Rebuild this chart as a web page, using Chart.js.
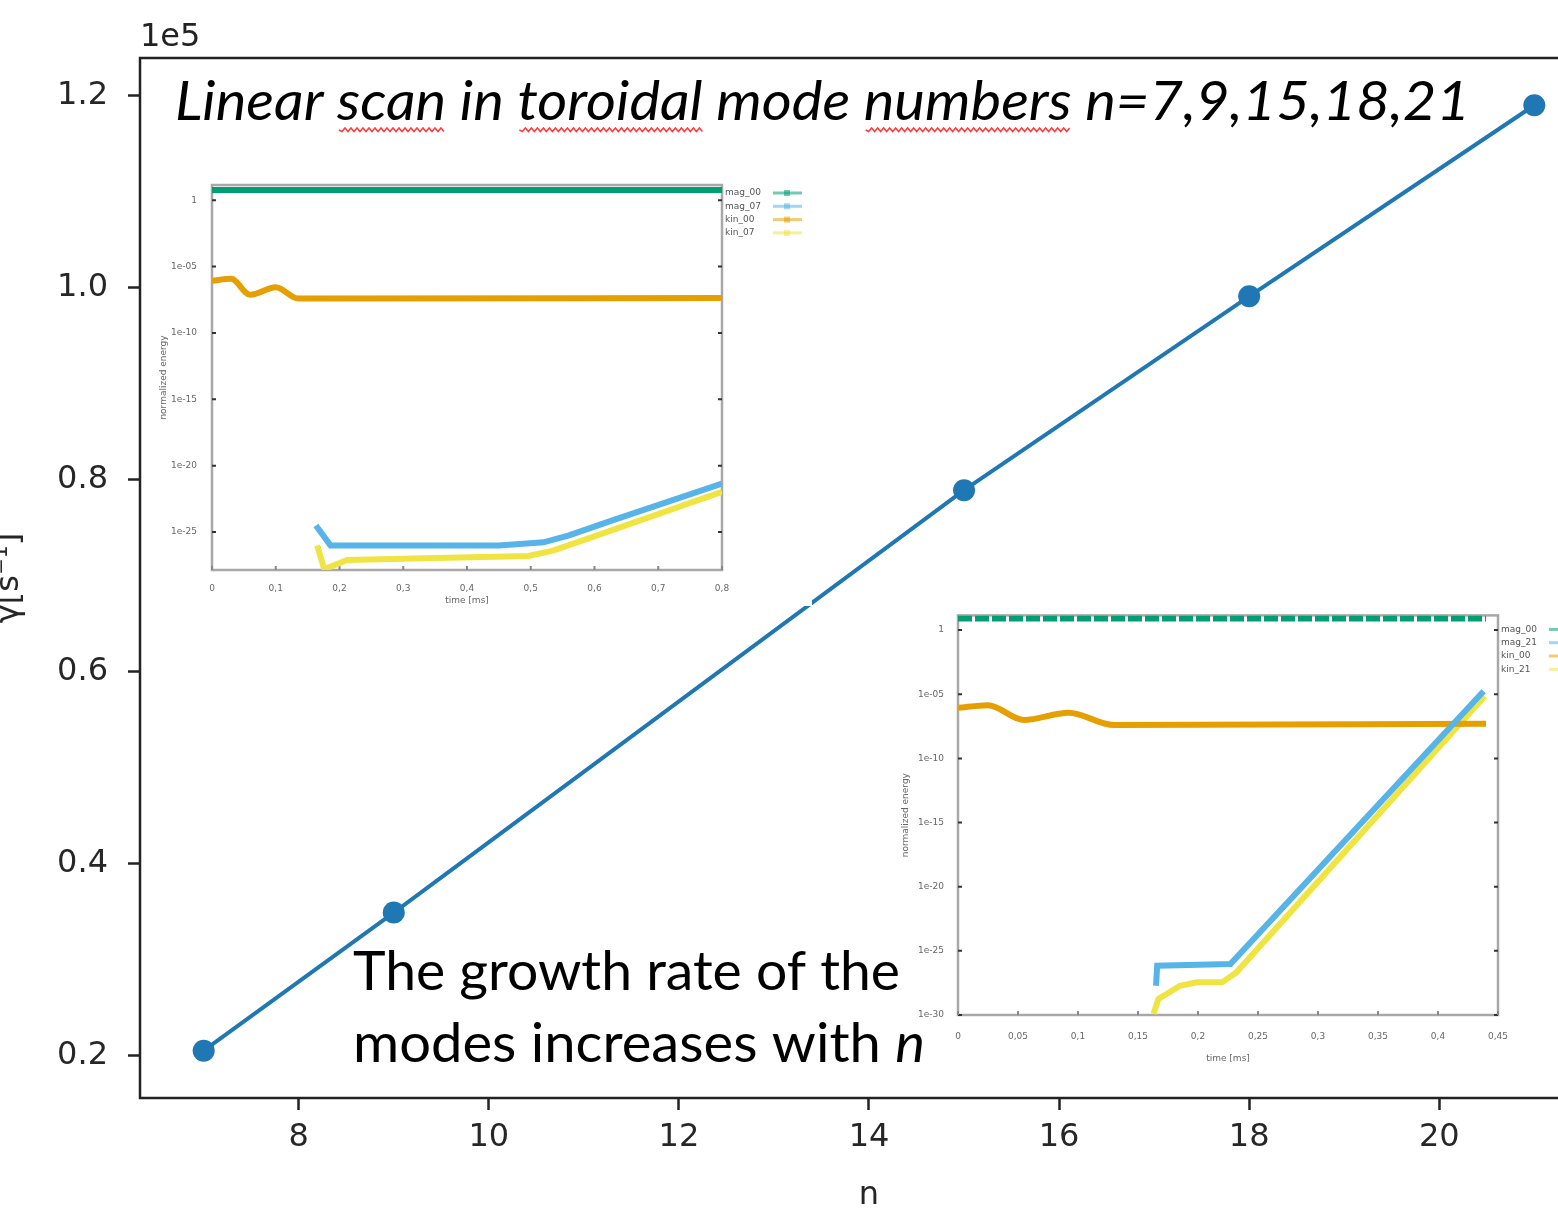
<!DOCTYPE html>
<html>
<head>
<meta charset="utf-8">
<script src="https://cdn.jsdelivr.net/npm/chart.js@4.4.1/dist/chart.umd.min.js"></script>
<style>
  html, body { margin: 0; padding: 0; background: #fff; overflow: hidden; }
  #wrap { position: relative; width: 1558px; height: 1215px; overflow: hidden; }
  canvas { position: absolute; }
  #main { left: 0; top: 0; }
  #inset1 { left: 150px; top: 172px; background: #fff; }
  #inset2 { left: 893px; top: 604px; }
</style>
</head>
<body>
<div id="wrap">
  <canvas id="main" width="1609" height="1215"></canvas>
  <canvas id="inset1" width="662" height="434"></canvas>
  <canvas id="inset2" width="700" height="460"></canvas>
</div>
<script>
// --- main scan: growth rate vs toroidal mode number
const modeNumbers = [7, 9, 15, 18, 21];
const growthRates = [20500, 34900, 78900, 99100, 119000];   // s^-1
const nTicks = [8, 10, 12, 14, 16, 18, 20];
const gammaTicks = [20000, 40000, 60000, 80000, 100000, 120000];
const gammaTickLabels = ['0.2', '0.4', '0.6', '0.8', '1.0', '1.2'];

// --- inset 1: energies for n=7 run (log scale)
const ins1TimeTicks = [0, 0.1, 0.2, 0.3, 0.4, 0.5, 0.6, 0.7, 0.8];
const ins1TimeLabels = ['0', '0,1', '0,2', '0,3', '0,4', '0,5', '0,6', '0,7', '0,8'];
const ins1EnergyTicks = [1, 1e-5, 1e-10, 1e-15, 1e-20, 1e-25];
const ins1EnergyLabels = ['1', '1e-05', '1e-10', '1e-15', '1e-20', '1e-25'];
const ins1Mag00T = [0, 0.8];
const ins1Mag00E = [6, 6];
const ins1Mag07T = [0.163, 0.186, 0.45, 0.52, 0.56, 0.628, 0.8];
const ins1Mag07E = [3.2e-25, 9.8e-27, 1.0e-26, 1.7e-26, 5.6e-26, 7.6e-25, 4.6e-22];
const ins1Kin00T = [0, 0.03, 0.06, 0.1, 0.135, 0.8];
const ins1Kin00E = [8.7e-7, 1.2e-6, 7.5e-8, 2.8e-7, 4.0e-8, 4.3e-8];
const ins1Kin07T = [0.165, 0.176, 0.212, 0.298, 0.496, 0.535, 0.595, 0.8];
const ins1Kin07E = [1e-26, 1.6e-28, 8e-28, 1e-27, 1.6e-27, 4e-27, 4e-26, 1.07e-22];

// --- inset 2: energies for n=21 run (log scale)
const ins2TimeTicks = [0, 0.05, 0.1, 0.15, 0.2, 0.25, 0.3, 0.35, 0.4, 0.45];
const ins2TimeLabels = ['0', '0,05', '0,1', '0,15', '0,2', '0,25', '0,3', '0,35', '0,4', '0,45'];
const ins2EnergyTicks = [1, 1e-5, 1e-10, 1e-15, 1e-20, 1e-25, 1e-30];
const ins2EnergyLabels = ['1', '1e-05', '1e-10', '1e-15', '1e-20', '1e-25', '1e-30'];
const ins2Mag00T = [0, 0.44];
const ins2Mag00E = [8, 8];
const ins2Mag21T = [0.165, 0.166, 0.227, 0.438];
const ins2Mag21E = [1.9e-28, 6.9e-27, 9.3e-27, 1.7e-5];
const ins2Kin00T = [0, 0.025, 0.055, 0.092, 0.13, 0.44];
const ins2Kin00E = [8.7e-7, 1.4e-6, 9.8e-8, 3.6e-7, 4.0e-8, 5.1e-8];
const ins2Kin21T = [0.163, 0.167, 0.185, 0.199, 0.22, 0.232, 0.439];
const ins2Kin21E = [1.26e-30, 1.8e-29, 1.9e-28, 3.5e-28, 3.5e-28, 2.1e-27, 7.1e-6];

const GREEN = '#009e73', BLUE = '#56b4e9', ORANGE = '#e69f00', YELLOW = '#f0e442';

// draws spines, offset text and the slide annotations
const mainDecor = {
  id: 'mainDecor',
  afterDraw(chart) {
    const ctx = chart.ctx;
    const a = chart.chartArea;
    ctx.save();
    ctx.strokeStyle = '#222';
    ctx.lineWidth = 2.5;
    ctx.strokeRect(a.left, a.top, a.right - a.left, a.bottom - a.top);

    ctx.fillStyle = '#222';
    ctx.font = '32px "DejaVu Sans"';
    ctx.textBaseline = 'alphabetic';
    ctx.fillText('1e5', 140, 46);

    // title line with spell-check squiggles
    const title = 'Linear scan in toroidal mode numbers n=7,9,15,18,21';
    ctx.font = 'italic 55px Lato';
    const tw = ctx.measureText(title).width;
    const sx = 1295 / tw;
    ctx.fillStyle = '#000';
    ctx.save();
    ctx.translate(175, 120);
    ctx.scale(sx, 1);
    ctx.fillText(title, 0, 0);
    ctx.restore();
    ctx.strokeStyle = '#ff3b3b';
    ctx.lineWidth = 1.5;
    ['scan', 'toroidal', 'numbers'].forEach(w => {
      const i = title.indexOf(w);
      const x0 = 175 + ctx.measureText(title.slice(0, i)).width * sx + 2;
      const x1 = 175 + ctx.measureText(title.slice(0, i + w.length)).width * sx;
      ctx.beginPath();
      let up = true;
      for (let x = x0; x <= x1; x += 3) {
        if (x === x0) ctx.moveTo(x, 130); else ctx.lineTo(x, up ? 128 : 131.5);
        up = !up;
      }
      ctx.stroke();
    });

    // annotation
    ctx.fillStyle = '#000';
    ctx.font = '55px Lato';
    const l1 = 'The growth rate of the';
    const s1 = 547 / ctx.measureText(l1).width;
    ctx.save();
    ctx.translate(353, 990);
    ctx.scale(s1, 1);
    ctx.fillText(l1, 0, 0);
    ctx.restore();
    const l2 = 'modes increases with ';
    const w2 = ctx.measureText(l2).width;
    ctx.font = 'italic 55px Lato';
    const wn = ctx.measureText('n').width;
    const s2 = 572 / (w2 + wn);
    ctx.save();
    ctx.translate(353, 1062);
    ctx.scale(s2, 1);
    ctx.fillText('n', w2, 0);
    ctx.font = '55px Lato';
    ctx.fillText(l2, 0, 0);
    ctx.restore();
    ctx.restore();
  }
};

new Chart(document.getElementById('main'), {
  type: 'line',
  data: {
    datasets: [{
      data: modeNumbers.map((n, i) => ({ x: n, y: growthRates[i] })),
      borderColor: '#1f77b4',
      backgroundColor: '#1f77b4',
      borderWidth: 4,
      pointRadius: 11,
      pointBorderWidth: 0,
      pointBackgroundColor: '#1f77b4',
      clip: false
    }]
  },
  options: {
    responsive: false,
    animation: false,
    layout: { padding: { top: 58, right: 3, left: 0, bottom: 0 } },
    plugins: { legend: { display: false }, tooltip: { enabled: false } },
    scales: {
      x: {
        type: 'linear',
        min: 6.33,
        max: 21.67,
        afterBuildTicks: s => { s.ticks = nTicks.map(v => ({ value: v })); },
        afterFit: s => { s.height = 117; },
        border: { display: false },
        grid: { drawOnChartArea: false, drawTicks: true, tickLength: 12, tickColor: '#222', tickWidth: 2.5 },
        ticks: { font: { family: 'DejaVu Sans', size: 32 }, color: '#262626', padding: 8, maxRotation: 0 },
        title: { display: true, text: 'n', font: { family: 'DejaVu Sans', size: 32 }, color: '#262626', padding: { top: 6, bottom: 0 } }
      },
      y: {
        type: 'linear',
        min: 15575,
        max: 123925,
        afterBuildTicks: s => { s.ticks = gammaTicks.map(v => ({ value: v })); },
        afterFit: s => { s.width = 140; },
        border: { display: false },
        grid: { drawOnChartArea: false, drawTicks: true, tickLength: 12, tickColor: '#222', tickWidth: 2.5 },
        ticks: {
          font: { family: 'DejaVu Sans', size: 32 }, color: '#262626', padding: 20,
          callback: v => gammaTickLabels[gammaTicks.indexOf(v)]
        },
        title: { display: true, text: 'γ[s⁻¹]', font: { family: 'DejaVu Sans', size: 32, lineHeight: 1 }, color: '#262626', padding: { top: -6, bottom: 0 } }
      }
    }
  },
  plugins: [mainDecor]
});

// gnuplot-like frame, inner ticks and legend for the insets
const insetDecor = {
  id: 'insetDecor',
  beforeDatasetsDraw(chart, args, opts) {
    const ctx = chart.ctx;
    const a = chart.chartArea;
    ctx.save();
    ctx.strokeStyle = '#a8a8a8';
    ctx.lineWidth = 2.5;
    ctx.strokeRect(a.left, a.top, a.right - a.left, a.bottom - a.top);
    ctx.strokeStyle = '#333';
    ctx.lineWidth = 2;
    chart.scales.y.ticks.forEach(t => {
      const y = chart.scales.y.getPixelForValue(t.value);
      ctx.beginPath();
      ctx.moveTo(a.left, y); ctx.lineTo(a.left + 4, y);
      ctx.moveTo(a.right, y); ctx.lineTo(a.right - 4, y);
      ctx.stroke();
    });
    ctx.strokeStyle = '#888';
    chart.scales.x.ticks.forEach(t => {
      const x = chart.scales.x.getPixelForValue(t.value);
      ctx.beginPath();
      ctx.moveTo(x, a.bottom); ctx.lineTo(x, a.bottom - 4);
      ctx.stroke();
    });
    ctx.restore();
  },
  afterDraw(chart, args, opts) {
    const ctx = chart.ctx;
    const a = chart.chartArea;
    ctx.save();
    ctx.font = '9px "DejaVu Sans"';
    ctx.textBaseline = 'middle';
    chart.data.datasets.forEach((ds, i) => {
      const y = a.top + opts.legendTop + i * 13.3;
      ctx.fillStyle = '#555';
      ctx.fillText(ds.label, a.right + 3, y);
      ctx.globalAlpha = 0.55;
      ctx.strokeStyle = ds.borderColor;
      ctx.lineWidth = 3;
      ctx.beginPath();
      ctx.moveTo(a.right + 51, y); ctx.lineTo(a.right + 80, y);
      ctx.stroke();
      ctx.fillStyle = ds.borderColor;
      ctx.fillRect(a.right + 62, y - 3, 6, 6);
      ctx.globalAlpha = 1;
    });
    ctx.restore();
  }
};

function series(label, t, e, color, extra) {
  return Object.assign({
    label: label,
    data: t.map((x, i) => ({ x: x, y: e[i] })),
    borderColor: color,
    backgroundColor: color,
    borderWidth: 6,
    pointRadius: 0
  }, extra || {});
}

function insetChart(id, cfg) {
  const small = { family: 'DejaVu Sans', size: 9 };
  return new Chart(document.getElementById(id), {
    type: 'line',
    data: { datasets: cfg.datasets },
    options: {
      responsive: false,
      animation: false,
      layout: { padding: { top: cfg.top, right: cfg.right, left: 0, bottom: 0 } },
      plugins: { legend: { display: false }, tooltip: { enabled: false }, insetDecor: { legendTop: cfg.legendTop } },
      scales: {
        x: {
          type: 'linear', min: 0, max: cfg.xMax,
          afterBuildTicks: s => { s.ticks = cfg.xTicks.map(v => ({ value: v })); },
          afterFit: s => { s.height = cfg.xHeight; },
          border: { display: false },
          grid: { display: false },
          ticks: { font: small, color: '#666', padding: cfg.xPad, maxRotation: 0, callback: v => cfg.xLabels[cfg.xTicks.indexOf(v)] },
          title: { display: true, text: 'time [ms]', font: small, color: '#666', padding: { top: cfg.xTitlePad, bottom: 0 } }
        },
        y: {
          type: 'logarithmic', min: cfg.yMin, max: cfg.yMax,
          afterBuildTicks: s => { s.ticks = cfg.yTicks.map(v => ({ value: v })); },
          afterFit: s => { s.width = cfg.yWidth; },
          border: { display: false },
          grid: { display: false },
          ticks: { font: small, color: '#666', padding: cfg.yPad, callback: v => cfg.yLabels[cfg.yTicks.findIndex(t => Math.abs(Math.log10(t) - Math.log10(v)) < 1e-6)] },
          title: { display: true, text: 'normalized energy', font: small, color: '#666', padding: { top: cfg.yTitlePad, bottom: 0 } }
        }
      }
    },
    plugins: [insetDecor]
  });
}

insetChart('inset1', {
  datasets: [
    series('mag_00', ins1Mag00T, ins1Mag00E, GREEN),
    series('mag_07', ins1Mag07T, ins1Mag07E, BLUE),
    series('kin_00', ins1Kin00T, ins1Kin00E, ORANGE, { cubicInterpolationMode: 'monotone' }),
    series('kin_07', ins1Kin07T, ins1Kin07E, YELLOW)
  ],
  xMax: 0.8, xTicks: ins1TimeTicks, xLabels: ins1TimeLabels,
  yMin: 1.4e-28, yMax: 14, yTicks: ins1EnergyTicks, yLabels: ins1EnergyLabels,
  top: 13, right: 90, xHeight: 36, yWidth: 62,
  xPad: 5, xTitlePad: 1, yPad: 7, yTitlePad: 8, legendTop: 8
});

insetChart('inset2', {
  datasets: [
    series('mag_00', ins2Mag00T, ins2Mag00E, GREEN, { borderDash: [14, 3] }),
    series('mag_21', ins2Mag21T, ins2Mag21E, BLUE),
    series('kin_00', ins2Kin00T, ins2Kin00E, ORANGE, { cubicInterpolationMode: 'monotone' }),
    series('kin_21', ins2Kin21T, ins2Kin21E, YELLOW)
  ],
  xMax: 0.45, xTicks: ins2TimeTicks, xLabels: ins2TimeLabels,
  yMin: 1e-30, yMax: 14, yTicks: ins2EnergyTicks, yLabels: ins2EnergyLabels,
  top: 10, right: 95, xHeight: 49, yWidth: 65,
  xPad: 8, xTitlePad: 9, yPad: 6, yTitlePad: 7, legendTop: 14
});
</script>
</body>
</html>
